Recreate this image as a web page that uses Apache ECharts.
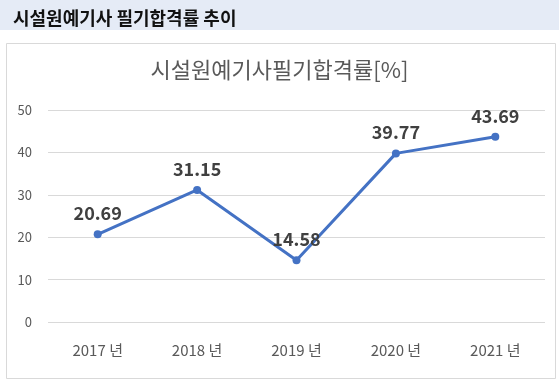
<!DOCTYPE html>
<html>
<head>
<meta charset="utf-8">
<script src="https://cdn.jsdelivr.net/npm/echarts@6/dist/echarts.min.js"></script>
<style>
html,body{margin:0;padding:0;background:#fff;}
#c{width:559px;height:382px;}
</style>
</head>
<body>
<div id="c"></div>
<script>
const categories = ['2017 년', '2018 년', '2019 년', '2020 년', '2021 년'];
const passRates = [20.69, 31.15, 14.58, 39.77, 43.69];
const headerTitle = '시설원예기사 필기합격률 추이';
const chartTitle = '시설원예기사필기합격률[%]';

const FONT = '"Noto Sans CJK KR", "Noto Sans", sans-serif';
const chart = echarts.init(document.getElementById('c'), null, {renderer: 'canvas'});
chart.setOption({
  backgroundColor: '#ffffff',
  animation: false,
  graphic: [
    {type: 'rect', left: 0, top: 0, shape: {width: 559, height: 30}, style: {fill: '#e5ebf6'}, z: -10},
    {type: 'rect', left: 4, top: 41, shape: {width: 549, height: 335}, style: {fill: 'none', stroke: '#d9d9d9', lineWidth: 1}, z: -10}
  ],
  title: [
    {text: headerTitle, left: 8, top: 4, textStyle: {fontFamily: FONT, fontSize: 18, fontWeight: 'bold', color: '#111111'}},
    {text: chartTitle, left: 'center', top: 54, textStyle: {fontFamily: FONT, fontSize: 22, fontWeight: 'normal', color: '#595959'}}
  ],
  grid: {left: 48, right: 14, top: 110, bottom: 60, containLabel: false},
  xAxis: {
    type: 'category',
    data: categories,
    boundaryGap: true,
    axisLine: {show: false},
    axisTick: {show: false},
    axisLabel: {fontFamily: FONT, fontSize: 15, color: '#595959', margin: 21}
  },
  yAxis: {
    type: 'value',
    min: 0, max: 50, interval: 10,
    axisLine: {show: false},
    axisTick: {show: false},
    splitLine: {lineStyle: {color: '#d9d9d9', width: 1}},
    axisLabel: {fontFamily: FONT, fontSize: 13, color: '#595959', margin: 16}
  },
  series: [{
    type: 'line',
    data: passRates,
    symbol: 'circle',
    symbolSize: 8,
    lineStyle: {color: '#4472c4', width: 3},
    itemStyle: {color: '#4472c4'},
    label: {
      show: true, position: 'top', distance: 8,
      fontFamily: FONT, fontSize: 18, fontWeight: 'bold', color: '#404040',
      formatter: p => p.value.toFixed(2)
    }
  }]
});
</script>
</body>
</html>
